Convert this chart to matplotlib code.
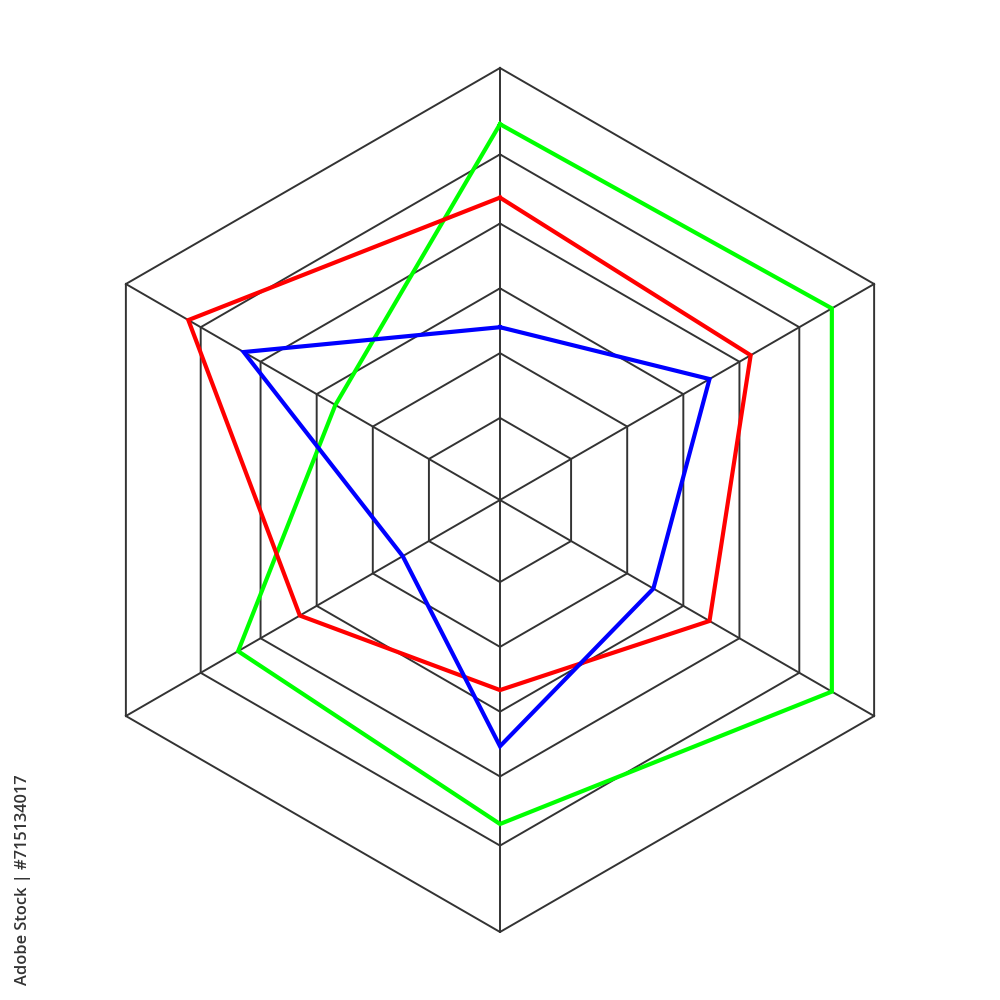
import numpy as np
import matplotlib.pyplot as plt

# 六个方向（从顶部开始顺时针）
angles = np.deg2rad([90, 30, -30, -90, -150, 150])
rings = [19, 34, 49, 64, 80, 100]

green = [87, 88.7, 88.7, 75, 70, 44]
red = [70, 67, 56, 44, 53.5, 83.3]
blue = [40, 56, 41, 57, 26, 68.5]


def xy(vals):
    v = np.append(vals, vals[0])
    a = np.append(angles, angles[0])
    return v * np.cos(a), v * np.sin(a)


fig = plt.figure(figsize=(10, 10), dpi=100)
ax = fig.add_axes([0, 0, 1, 1])
lim = 500 / 432 * 100
ax.set_xlim(-lim, lim)
ax.set_ylim(-lim, lim)
ax.set_aspect('equal')
ax.axis('off')

# 网格
grid_c = '#333333'
for r in rings:
    x, y = xy(np.full(6, r))
    ax.plot(x, y, color=grid_c, lw=1.4, zorder=1)
for a in angles:
    ax.plot([0, 100 * np.cos(a)], [0, 100 * np.sin(a)], color=grid_c, lw=1.4, zorder=1)

# 数据
for vals, c in [(green, '#00ff00'), (red, '#ff0000'), (blue, '#0000ff')]:
    x, y = xy(vals)
    ax.plot(x, y, color=c, lw=3, zorder=2, solid_joinstyle='miter')

fig.text(0.023, 0.12, 'Adobe Stock | #715134017', rotation=90, fontsize=11.8,
         color='#333333', family=['Open Sans', 'DejaVu Sans'], ha='center', va='center',
         fontweight='semibold')

fig.savefig('out.png', dpi=100, facecolor='white')
